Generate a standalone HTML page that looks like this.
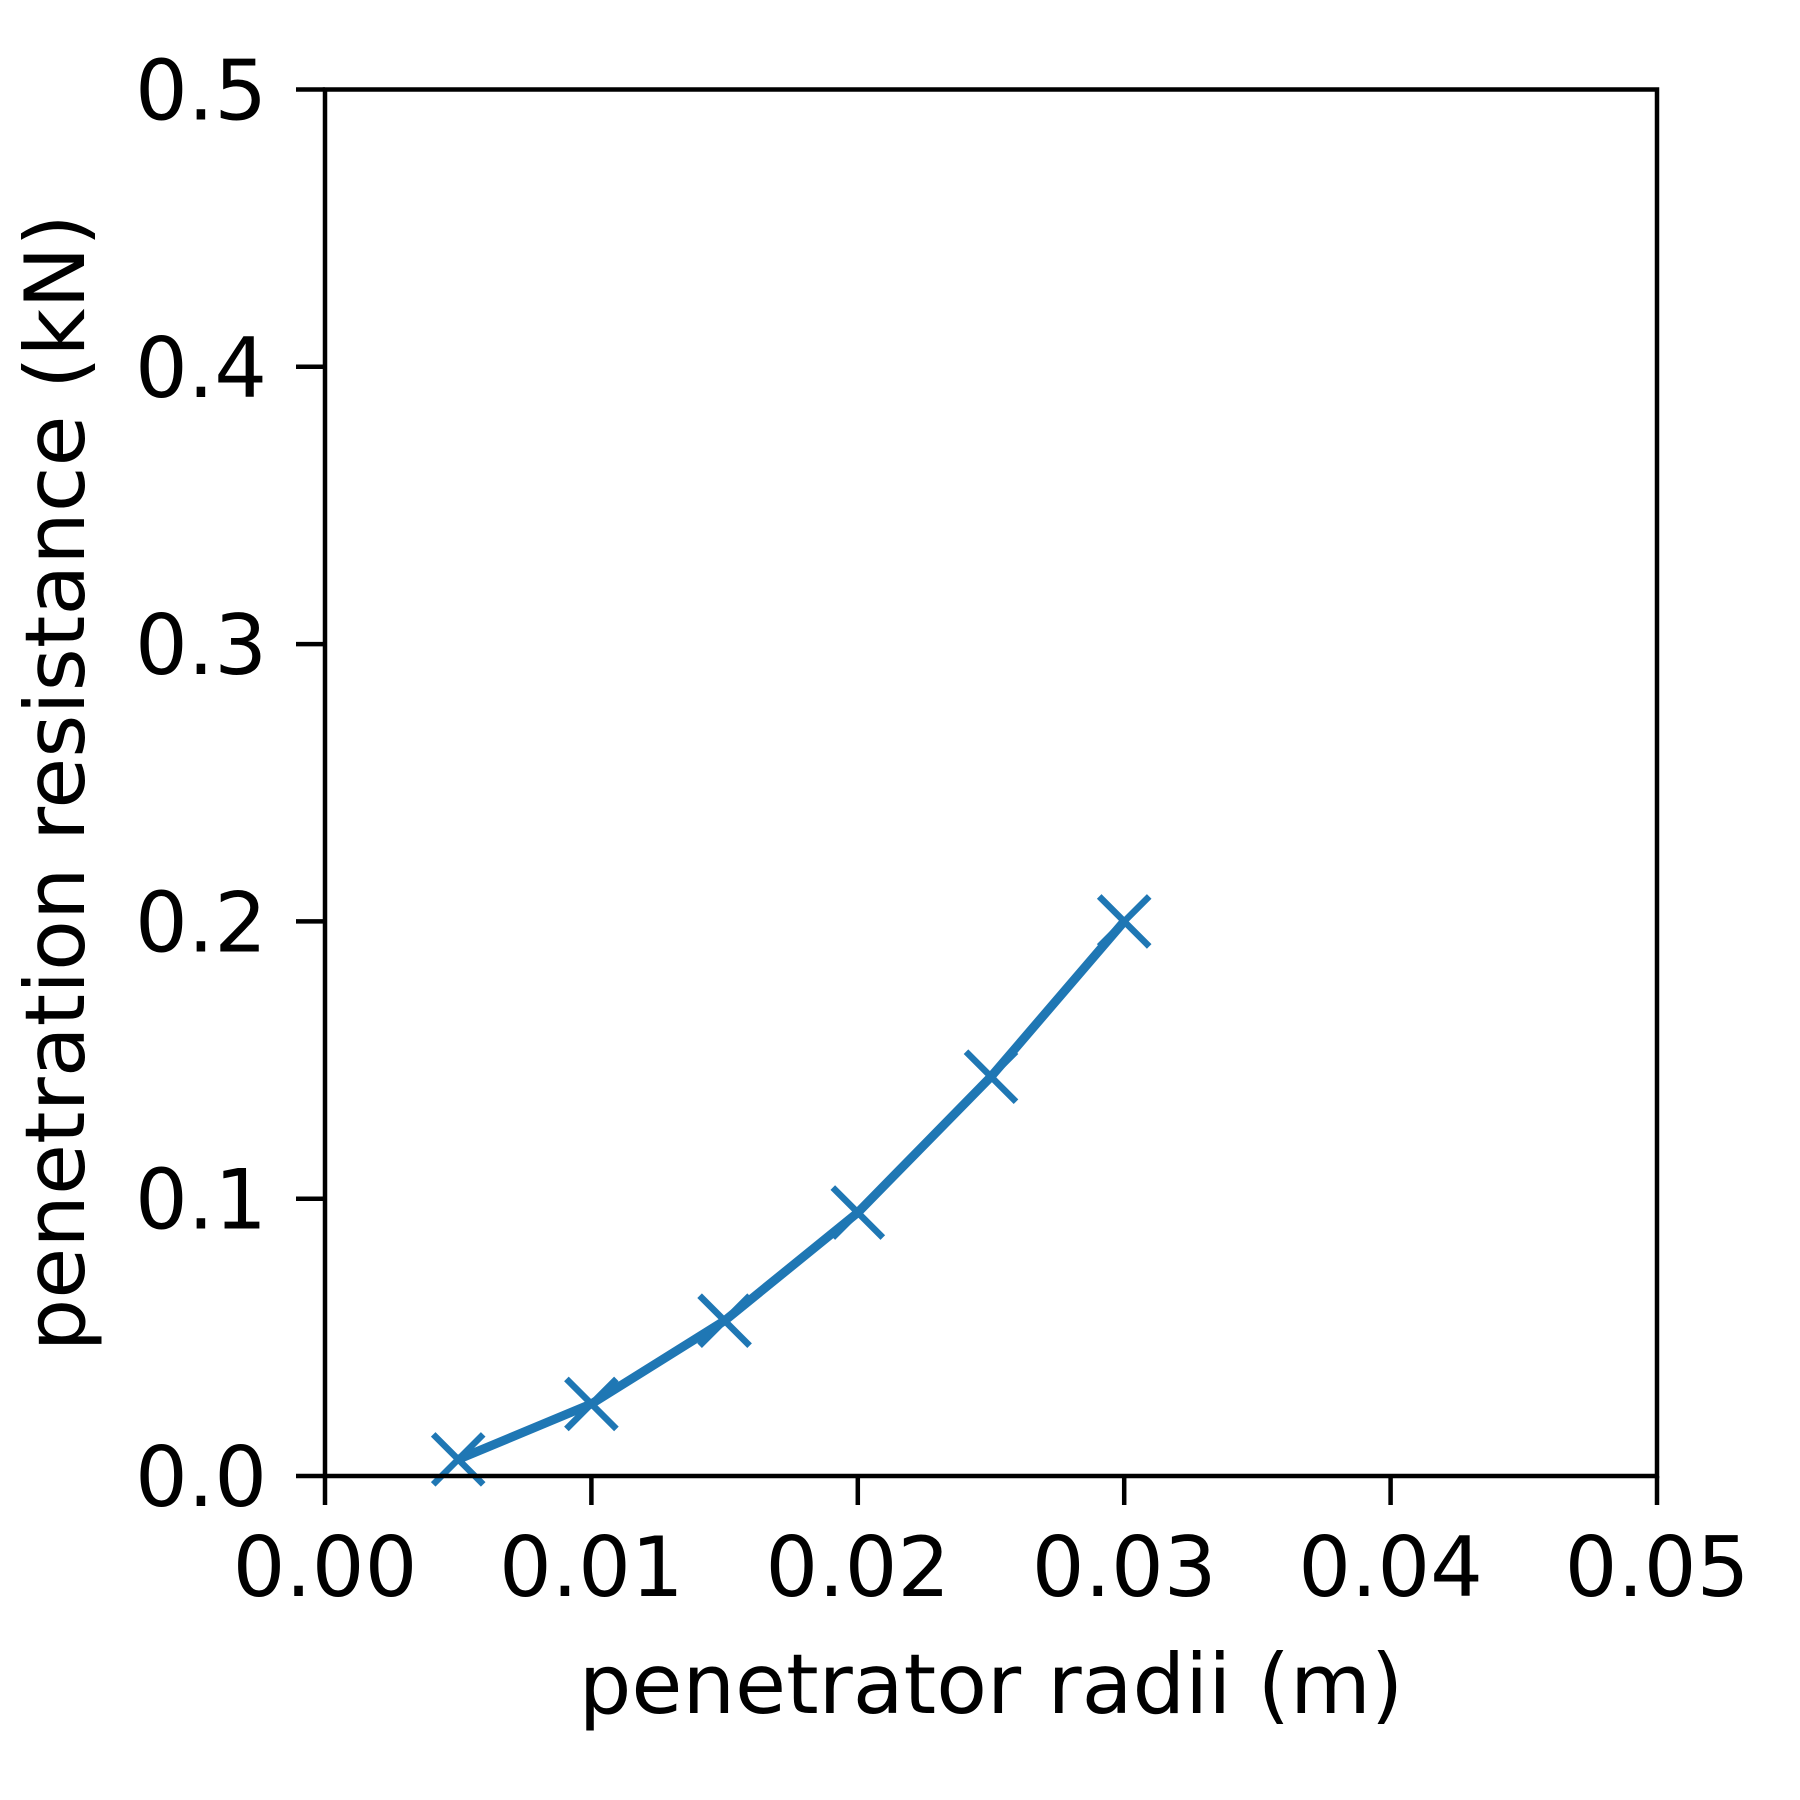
<!DOCTYPE html>
<html><head><meta charset="utf-8"><style>
html,body{margin:0;padding:0;background:#fff;}
svg{display:block;font-family:"DejaVu Sans","Liberation Sans",sans-serif;}
</style></head><body>
<svg id="chart" width="1800" height="1800" viewBox="0 0 1800 1800">
<rect width="1800" height="1800" fill="#fff"/>
<g id="plot"></g>
</svg>
<script>
const radii = [0.005, 0.010, 0.015, 0.020, 0.025, 0.030];
const resistance = [0.006, 0.026, 0.056, 0.095, 0.144, 0.200];
const xTicks = [0, 0.01, 0.02, 0.03, 0.04, 0.05];
const xTickLabels = ["0.00","0.01","0.02","0.03","0.04","0.05"];
const yTicks = [0, 0.1, 0.2, 0.3, 0.4, 0.5];
const yTickLabels = ["0.0","0.1","0.2","0.3","0.4","0.5"];

const L=325, R=1657, T=89.5, B=1476;
const xs = v => L + (v-0)/(0.05-0)*(R-L);
const ys = v => B - (v-0)/(0.5-0)*(B-T);
const NS="http://www.w3.org/2000/svg";
const svg=document.getElementById('chart');
const g=document.getElementById('plot');
function mk(tag, attrs, parent){const e=document.createElementNS(NS,tag);for(const k in attrs)e.setAttribute(k,attrs[k]);(parent||g).appendChild(e);return e;}

const pts = radii.map((x,i)=>xs(x)+','+ys(resistance[i])).join(' ');
const line = mk('polyline',{points:pts,fill:'none',stroke:'#1f77b4','stroke-width':9,'stroke-linejoin':'round'});


radii.forEach((x,i)=>{
  const cx=xs(x), cy=ys(resistance[i]), h=25;
  const m = mk('path',{d:`M${cx-h},${cy-h}L${cx+h},${cy+h}M${cx-h},${cy+h}L${cx+h},${cy-h}`,stroke:'#1f77b4','stroke-width':6.5,fill:'none'});
  
  
});

const frame = mk('rect',{x:L,y:T,width:R-L,height:B-T,fill:'none',stroke:'#000','stroke-width':4.5});



xTicks.forEach((v,i)=>{
  const x=xs(v);
  const t = mk('line',{x1:x,y1:B,x2:x,y2:B+29,stroke:'#000','stroke-width':4.5});
  
  
  const lb = mk('text',{x:x,y:B+120,'text-anchor':'middle','font-size':83,fill:'#000'});
  lb.textContent=xTickLabels[i];
  
  
});
yTicks.forEach((v,i)=>{
  const y=ys(v);
  const t = mk('line',{x1:L-29,y1:y,x2:L,y2:y,stroke:'#000','stroke-width':4.5});
  
  
  const lb = mk('text',{x:267,y:y+30,'text-anchor':'end','font-size':83,fill:'#000'});
  lb.textContent=yTickLabels[i];
  
  
});

const xt = mk('text',{x:(L+R)/2,y:1713,'text-anchor':'middle','font-size':83,fill:'#000'});
xt.textContent='penetrator radii (m)';


const yt = mk('text',{x:0,y:0,'text-anchor':'middle','font-size':83,fill:'#000',transform:`translate(84,${(T+B)/2}) rotate(-90)`});
yt.textContent='penetration resistance (kN)';


</script>
</body></html>
